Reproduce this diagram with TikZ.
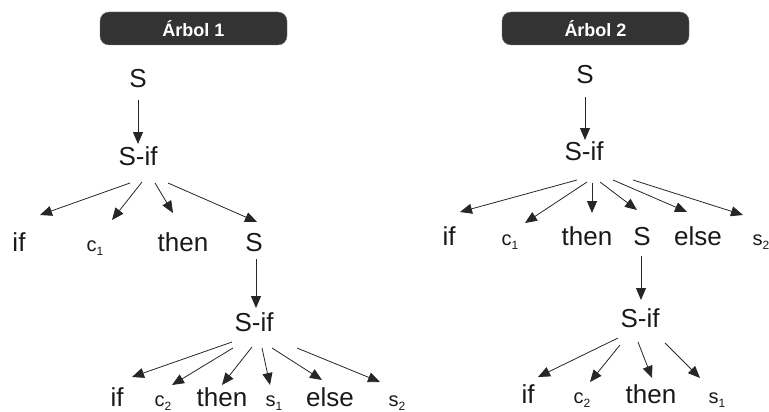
\documentclass[tikz,border=0pt]{standalone}
\usepackage{fontspec}
\setmainfont{Liberation Sans}
\usepackage{xcolor}
\usetikzlibrary{arrows.meta}

\definecolor{barfill}{HTML}{333333}
\newcommand{\subvar}[2]{{\fontsize{20}{22}\selectfont #1\raisebox{-4pt}{\fontsize{12}{13}\selectfont #2}}}

\begin{document}
\begin{tikzpicture}[
        x=1pt, y=-1pt,
        word/.style={anchor=base, inner sep=0pt, font=\fontsize{26}{29}\selectfont, text=black!90},
        titlebar/.style={rectangle, rounded corners=9pt, fill=barfill, draw=black!55, minimum width=187pt, minimum height=33pt, text=white, font=\fontsize{18}{20}\selectfont\bfseries},
        arrow/.style={-{Triangle[length=12pt, width=10pt]}, line width=0.8pt, draw=black!85},
    ]
        \useasboundingbox (0,0) rectangle (769,412);

        % Titles
        \node[titlebar] (title1) at (193.5,28.5) {Árbol 1};
        \node[titlebar] (title2) at (595.5,28.5) {Árbol 2};

        % Tree 1
        \node[word] (s1top) at (138,88) {S};
        \node[word] (sif1a) at (138,165) {S-if};
        \node[word] (if1a) at (19,251) {if};
        \node[word] (c1a) at (95,251) {\subvar{c}{1}};
        \node[word] (then1a) at (183,251) {then};
        \node[word] (s1mid) at (254,251) {S};
        \node[word] (sif1b) at (254,331) {S-if};
        \node[word] (if1b) at (117,406) {if};
        \node[word] (c2b) at (163,406) {\subvar{c}{2}};
        \node[word] (then1b) at (222,406) {then};
        \node[word] (s1b) at (274,406) {\subvar{s}{1}};
        \node[word] (else1b) at (330,406) {else};
        \node[word] (s2b) at (397,406) {\subvar{s}{2}};

        % Tree 2
        \node[word] (s2top) at (585,84) {S};
        \node[word] (sif2a) at (584,160) {S-if};
        \node[word] (if2a) at (449,245) {if};
        \node[word] (c1c) at (510,245) {\subvar{c}{1}};
        \node[word] (then2a) at (587,245) {then};
        \node[word] (s2mid) at (642,245) {S};
        \node[word] (else2a) at (698,245) {else};
        \node[word] (s2c) at (761,245) {\subvar{s}{2}};
        \node[word] (sif2b) at (640,327) {S-if};
        \node[word] (if2b) at (528,403) {if};
        \node[word] (c2d) at (582,403) {\subvar{c}{2}};
        \node[word] (then2b) at (651,403) {then};
        \node[word] (s1d) at (717,403) {\subvar{s}{1}};

        % Arrows, tree 1
        \draw[arrow] ([shift={(0,12)}]s1top.base) -- ([shift={(0,-21)}]sif1a.base);
        \draw[arrow] ([shift={(-8,18)}]sif1a.base) -- ([shift={(21,-36)}]if1a.base);
        \draw[arrow] ([shift={(4,17)}]sif1a.base) -- ([shift={(17,-31)}]c1a.base);
        \draw[arrow] ([shift={(17,18)}]sif1a.base) -- ([shift={(-10,-38)}]then1a.base);
        \draw[arrow] ([shift={(30,18)}]sif1a.base) -- ([shift={(3,-29)}]s1mid.base);
        \draw[arrow] ([shift={(2,8)}]s1mid.base) -- ([shift={(2,-23)}]sif1b.base);
        \draw[arrow] ([shift={(-22,11)}]sif1b.base) -- ([shift={(15,-29)}]if1b.base);
        \draw[arrow] ([shift={(-21,17)}]sif1b.base) -- ([shift={(9,-21)}]c2b.base);
        \draw[arrow] ([shift={(-2,16)}]sif1b.base) -- ([shift={(0,-21)}]then1b.base);
        \draw[arrow] ([shift={(8,17)}]sif1b.base) -- ([shift={(-4,-21)}]s1b.base);
        \draw[arrow] ([shift={(18,17)}]sif1b.base) -- ([shift={(-8,-26)}]else1b.base);
        \draw[arrow] ([shift={(43,17)}]sif1b.base) -- ([shift={(-17,-24)}]s2b.base);

        % Arrows, tree 2
        \draw[arrow] ([shift={(0,13)}]s2top.base) -- ([shift={(1,-20)}]sif2a.base);
        \draw[arrow] ([shift={(-7,20)}]sif2a.base) -- ([shift={(11,-33)}]if2a.base);
        \draw[arrow] ([shift={(3,22)}]sif2a.base) -- ([shift={(15,-22)}]c1c.base);
        \draw[arrow] ([shift={(8,23)}]sif2a.base) -- ([shift={(5,-32)}]then2a.base);
        \draw[arrow] ([shift={(16,22)}]sif2a.base) -- ([shift={(-5,-35)}]s2mid.base);
        \draw[arrow] ([shift={(29,20)}]sif2a.base) -- ([shift={(-11,-33)}]else2a.base);
        \draw[arrow] ([shift={(49,20)}]sif2a.base) -- ([shift={(-18,-30)}]s2c.base);
        \draw[arrow] ([shift={(-1,11)}]s2mid.base) -- ([shift={(1,-27)}]sif2b.base);
        \draw[arrow] ([shift={(-22,11)}]sif2b.base) -- ([shift={(10,-26)}]if2b.base);
        \draw[arrow] ([shift={(-20,18)}]sif2b.base) -- ([shift={(8,-21)}]c2d.base);
        \draw[arrow] ([shift={(-2,15)}]sif2b.base) -- ([shift={(1,-25)}]then2b.base);
        \draw[arrow] ([shift={(25,16)}]sif2b.base) -- ([shift={(-17,-25)}]s1d.base);
    \end{tikzpicture}
\end{document}
